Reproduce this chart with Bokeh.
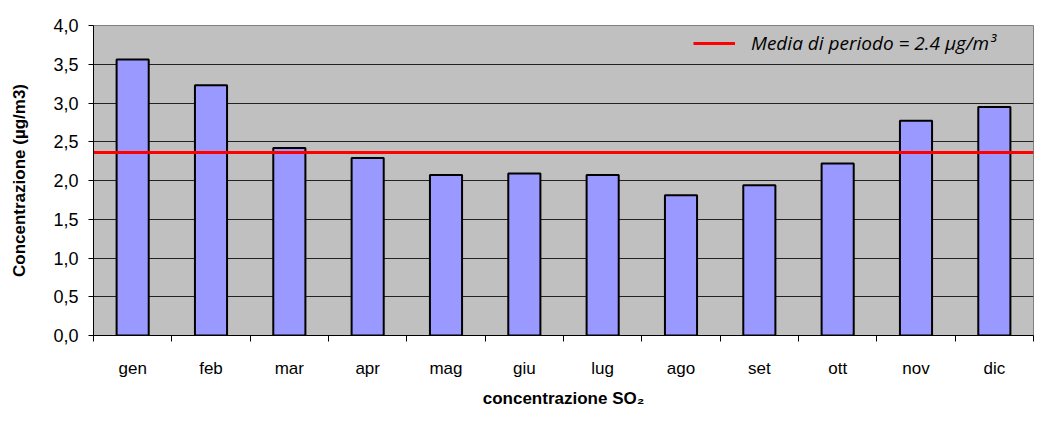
from bokeh.plotting import figure
from bokeh.models import (FixedTicker, CustomJSTickFormatter, Range1d, Legend,
                          LegendItem, ColumnDataSource)
from bokeh.embed import file_html
from bokeh.resources import INLINE

months = ["gen", "feb", "mar", "apr", "mag", "giu", "lug", "ago", "set", "ott", "nov", "dic"]
values = [3.56, 3.23, 2.42, 2.29, 2.07, 2.09, 2.07, 1.81, 1.94, 2.22, 2.77, 2.95]
media = 2.36
media_label = "Media di periodo = 2.4 µg/m³"
y_ticks = [0.0, 0.5, 1.0, 1.5, 2.0, 2.5, 3.0, 3.5, 4.0]
x_title = "concentrazione SO₂"
y_title = "Concentrazione (µg/m3)"

n = len(months)
centers = [i + 0.5 for i in range(n)]
src = ColumnDataSource(dict(x=centers, v=values, m=months))

p = figure(width=1036, height=414, x_range=Range1d(0, n), y_range=Range1d(0, 4),
           output_backend="svg", toolbar_location=None,
           min_border_left=93, min_border_right=3, min_border_top=25, min_border_bottom=79)
p.background_fill_color = "#c0c0c0"
p.border_fill_color = "white"
p.outline_line_color = "#808080"
p.outline_line_width = 1

p.vbar(x="x", top="v", width=0.41, bottom=0, source=src,
       fill_color="#9999ff", line_color="black", line_width=2)

r = p.line(x=[0, n], y=[media, media], line_color="#ff0000", line_width=3)

legend = Legend(items=[LegendItem(label=media_label, renderers=[r])],
                location="top_right", margin=0, padding=5,
                glyph_width=42, glyph_height=26, label_height=26, label_width=277,
                label_standoff=16,
                background_fill_alpha=0, border_line_alpha=0,
                label_text_font="Open Sans", label_text_font_style="italic",
                label_text_font_size="19px", label_text_color="black")
p.add_layout(legend)

# x axis
xa = p.xaxis[0]
xa.ticker = FixedTicker(ticks=centers, minor_ticks=list(range(n + 1)))
xa.formatter = CustomJSTickFormatter(args=dict(months=months),
                                     code="return months[Math.floor(tick)];")
xa.major_tick_out = 0
xa.major_tick_in = 0
xa.minor_tick_out = 6
xa.minor_tick_in = 0
xa.minor_tick_line_color = "black"
xa.axis_line_color = "black"
xa.axis_line_width = 1
xa.major_label_standoff = 17
xa.major_label_text_font = "Liberation Sans"
xa.major_label_text_font_size = "17px"
xa.major_label_text_color = "black"
xa.axis_label = x_title
xa.axis_label_text_font = "Liberation Sans"
xa.axis_label_text_font_style = "bold"
xa.axis_label_text_font_size = "17px"
xa.axis_label_text_color = "black"
xa.axis_label_standoff = 8

# y axis
ya = p.yaxis[0]
ya.ticker = FixedTicker(ticks=y_ticks)
ya.formatter = CustomJSTickFormatter(code="return tick.toFixed(1).replace('.', ',');")
ya.major_tick_out = 5
ya.major_tick_in = 0
ya.minor_tick_out = 0
ya.minor_tick_in = 0
ya.major_tick_line_color = "black"
ya.axis_line_color = "black"
ya.major_label_standoff = 10
ya.major_label_text_font = "Liberation Sans"
ya.major_label_text_font_size = "18px"
ya.major_label_text_color = "black"
ya.axis_label = y_title
ya.axis_label_text_font = "Liberation Sans"
ya.axis_label_text_font_style = "bold"
ya.axis_label_text_font_size = "17px"
ya.axis_label_text_color = "black"
ya.axis_label_standoff = 21

p.xgrid.visible = False
p.ygrid.ticker = FixedTicker(ticks=y_ticks)
p.ygrid.grid_line_color = "#222222"
p.ygrid.grid_line_width = 1

open("out.html", "w").write(file_html(p, INLINE))
